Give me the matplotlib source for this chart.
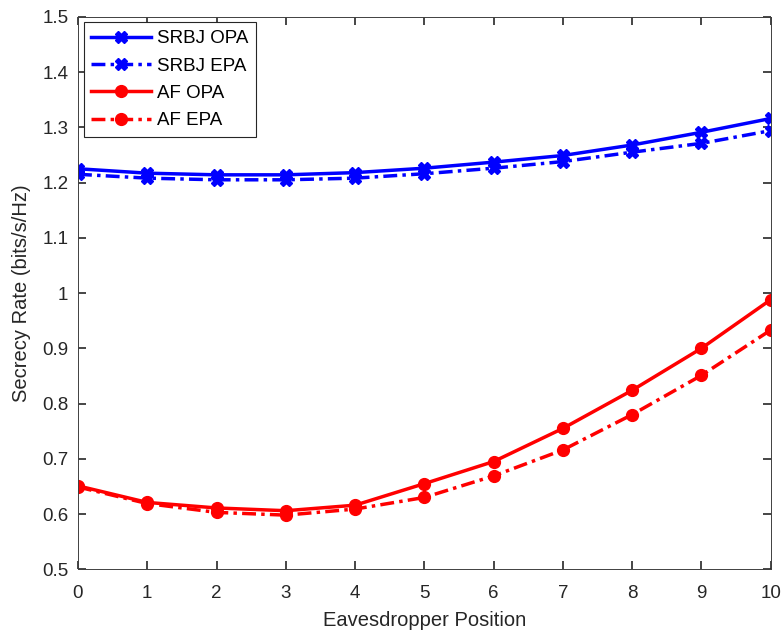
import matplotlib.pyplot as plt

# Data
positions = [0, 1, 2, 3, 4, 5, 6, 7, 8, 9, 10]
srbj_opa = [1.225, 1.217, 1.214, 1.214, 1.218, 1.226, 1.237, 1.249, 1.268, 1.291, 1.316]
srbj_epa = [1.215, 1.208, 1.205, 1.205, 1.208, 1.216, 1.226, 1.238, 1.255, 1.271, 1.294]
af_opa = [0.651, 0.621, 0.611, 0.606, 0.616, 0.655, 0.695, 0.755, 0.824, 0.900, 0.988]
af_epa = [0.649, 0.619, 0.603, 0.598, 0.609, 0.630, 0.669, 0.716, 0.780, 0.851, 0.933]

plt.rcParams['font.family'] = ['Liberation Sans', 'DejaVu Sans']
plt.rcParams['font.size'] = 13

fig = plt.figure(figsize=(7.83, 6.35), dpi=100)
ax = fig.add_axes([0.0996, 0.1035, 0.8847, 0.8700])

dashdot = (0, (4, 1.5, 1, 1.5))
ax.plot(positions, srbj_opa, color='b', linestyle='-', linewidth=2.5,
        marker='X', markersize=8, label='SRBJ OPA')
ax.plot(positions, srbj_epa, color='b', linestyle=dashdot, linewidth=2.5,
        marker='X', markersize=8, label='SRBJ EPA')
ax.plot(positions, af_opa, color='r', linestyle='-', linewidth=2.5,
        marker='o', markersize=8.5, label='AF OPA')
ax.plot(positions, af_epa, color='r', linestyle=dashdot, linewidth=2.5,
        marker='o', markersize=8.5, label='AF EPA')

ax.set_xlim(0, 10)
ax.set_ylim(0.5, 1.5)
ax.set_xticks(range(0, 11))
ax.set_yticks([0.5, 0.6, 0.7, 0.8, 0.9, 1.0, 1.1, 1.2, 1.3, 1.4, 1.5])
ax.set_yticklabels(['0.5', '0.6', '0.7', '0.8', '0.9', '1', '1.1', '1.2', '1.3', '1.4', '1.5'])
ax.tick_params(direction='in', top=True, right=True, length=6, width=1.2,
               labelsize=13.5, colors='#262626')
ax.tick_params(axis='x', pad=11)
ax.tick_params(axis='y', pad=7)
for s in ax.spines.values():
    s.set_color('#404040')
    s.set_linewidth(0.7)

ax.set_xlabel('Eavesdropper Position', fontsize=14.5, color='#262626', labelpad=7)
ax.set_ylabel('Secrecy Rate (bits/s/Hz)', fontsize=14.5, color='#262626', labelpad=8)

leg = ax.legend(loc='upper left', fontsize=13.5, fancybox=False, edgecolor='#262626',
                framealpha=1, borderaxespad=0.3, handlelength=3.2, labelspacing=0.55,
                borderpad=0.4, handletextpad=0.3)
leg.get_frame().set_linewidth(0.8)

fig.savefig('out.png', dpi=100)
